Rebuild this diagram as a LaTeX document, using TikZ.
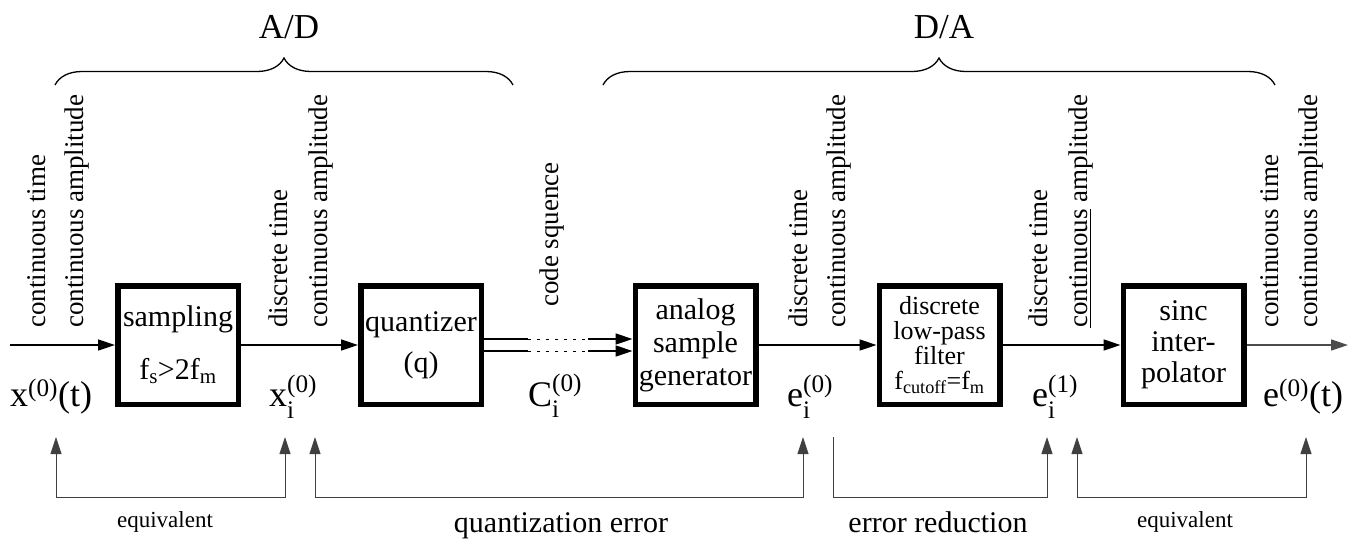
\documentclass[tikz,border=0pt]{standalone}
\usepackage{fontspec}
\setmainfont{Liberation Serif}
\usepackage{amsmath}
\usepackage{tikz}
\usetikzlibrary{arrows.meta,decorations.pathreplacing}

\tikzset{
  block/.style={draw, line width=5.5pt, minimum width=120.5pt, minimum height=118.5pt,
    inner sep=0pt, align=center, font=\fontsize{30}{33}\selectfont},
  sig/.style={line width=1.6pt, ->},
  ref/.style={line width=0.9pt, draw=black!75},
  tag/.style={rotate=90, anchor=base west, inner sep=0pt, font=\fontsize{27}{30}\selectfont},
  val/.style={anchor=base west, inner sep=0pt, font=\fontsize{36}{42}\selectfont},
  note/.style={anchor=base, inner sep=0pt, font=\fontsize{30}{36}\selectfont},
  smallnote/.style={note, font=\fontsize{23}{28}\selectfont},
  stage/.style={anchor=base, inner sep=0pt, font=\fontsize{35}{42}\selectfont},
  group/.style={decorate, decoration={brace, amplitude=27pt}, line width=1.3pt},
}

\begin{document}
\begin{tikzpicture}[x=1pt, y=-1pt, >={Triangle[length=17pt,width=11pt]}]
  \useasboundingbox (0,0) rectangle (1358,542);

  % blocks
  \node[block] (samp) at (178,345) {sampling\\[20pt]f\textsubscript{s}>2f\textsubscript{m}};
  \node[block] (quant) at (421,345) {quantizer\\[8pt](q)};
  \node[block] (gen) at (695.5,345) {analog\\sample\\generator};
  \node[block, font=\fontsize{26}{25}\selectfont] (lpf) at (939.5,345)
    {discrete\\low-pass\\filter\\f\textsubscript{cutoff}=f\textsubscript{m}};
  \node[block, font=\fontsize{30}{31}\selectfont] (sinc) at (1183.5,345) {sinc\\inter-\\polator};

  % signal path
  \coordinate (in) at (10,345);
  \coordinate (out) at (1348,345);
  \draw[sig] (in) -- (samp);
  \draw[sig] (samp) -- (quant);
  \draw[line width=1.6pt] ([yshift=6pt]quant.east) -- ++(44,0) coordinate (cua);
  \draw[line width=1.6pt] ([yshift=-6pt]quant.east) -- ++(44,0) coordinate (cub);
  \draw[line width=0.9pt, dash pattern=on 3pt off 6pt] (cua) -- ++(60,0) coordinate (cuc);
  \draw[line width=0.9pt, dash pattern=on 3pt off 6pt] (cub) -- ++(60,0) coordinate (cud);
  \draw[sig] (cuc) -- ([yshift=6pt]gen.west);
  \draw[sig] (cud) -- ([yshift=-6pt]gen.west);
  \draw[sig] (gen) -- (lpf);
  \draw[sig] (lpf) -- (sinc);
  \draw[sig, draw=black!70] (sinc) -- (out);

  % signal names
  \node[val] (xt) at (10,406) {$\text{x}^{\text{(0)}}\text{(t)}$};
  \node[val] (xi) at (269,406) {$\text{x}_{\text{i}}^{\text{(0)}}$};
  \node[val] (ci) at (528,406) {$\text{C}_{\text{i}}^{\text{(0)}}$};
  \node[val] (ei0) at (787,406) {$\text{e}_{\text{i}}^{\text{(0)}}$};
  \node[val] (ei1) at (1032,406) {$\text{e}_{\text{i}}^{\text{(1)}}$};
  \node[val] (et) at (1263,406) {$\text{e}^{\text{(0)}}\text{(t)}$};

  % signal kinds
  \node[tag] (ta1) at (45,328) {continuous time};
  \node[tag] (ta2) at (83,328) {continuous amplitude};
  \node[tag] (tb1) at (287,328) {discrete time};
  \node[tag] (tb2) at (327,328) {continuous amplitude};
  \node[tag] (tc1) at (558,307) {code squence};
  \node[tag] (td1) at (807,328) {discrete time};
  \node[tag] (td2) at (845,328) {continuous amplitude};
  \node[tag] (te1) at (1047,328) {discrete time};
  \node[tag] (te2) at (1087,328) {\underline{continuous} amplitude};
  \node[tag] (tf1) at (1278,328) {continuous time};
  \node[tag] (tf2) at (1317,328) {continuous amplitude};

  % A/D and D/A
  \draw[group] (55,85) -- (513,85);
  \draw[group] (603,85) -- (1275,85);
  \node[stage] (ad) at (289,38) {A/D};
  \node[stage] (da) at (944,38) {D/A};

  % relations
  \coordinate (eqa1) at (56,437);
  \coordinate (eqa2) at (285,437);
  \coordinate (qe1) at (315,437);
  \coordinate (qe2) at (803,437);
  \coordinate (er1) at (833,437);
  \coordinate (er2) at (1047,437);
  \coordinate (eqb1) at (1077,437);
  \coordinate (eqb2) at (1306,437);
  \draw[ref, <->] (eqa1) -- ++(0,60) -| (eqa2);
  \draw[ref, <->] (qe1) -- ++(0,60) -| (qe2);
  \draw[ref, ->] (er1) -- ++(0,60) -| (er2);
  \draw[ref, <->] (eqb1) -- ++(0,60) -| (eqb2);
  \node[smallnote] (eqa) at (165,527) {equivalent};
  \node[note] (qerr) at (561,532) {quantization error};
  \node[note] (ered) at (938,532) {error reduction};
  \node[smallnote] (eqb) at (1185,527) {equivalent};
\end{tikzpicture}
\end{document}
